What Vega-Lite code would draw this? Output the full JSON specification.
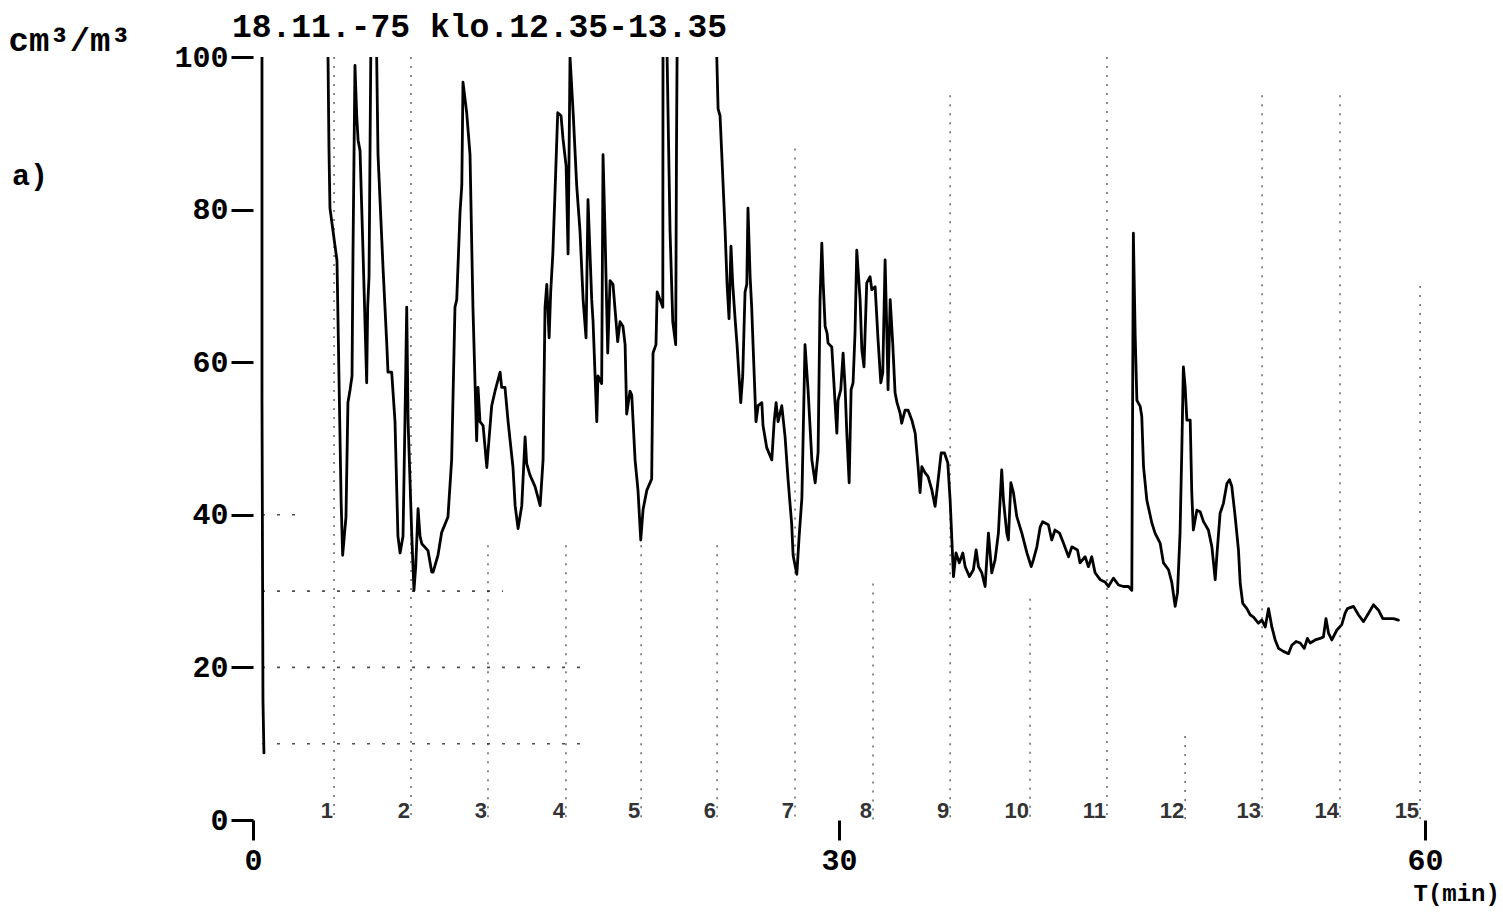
{
  "$schema": "https://vega.github.io/schema/vega-lite/v6.json",
  "width": 1172,
  "height": 763,
  "autosize": {"type": "none"},
  "padding": {"left": 253, "top": 57, "right": 78, "bottom": 93},
  "background": "white",
  "config": {"view": {"stroke": null}},
  "encoding": {
    "x": {
      "field": "t", "type": "quantitative",
      "scale": {"domain": [0, 60], "nice": false, "zero": false},
      "axis": {
        "values": [0, 30, 60], "domain": false, "grid": false,
        "tickSize": 20, "tickWidth": 3, "tickColor": "black",
        "labelFont": "Liberation Mono", "labelFontSize": 30, "labelFontWeight": "bold", "labelColor": "black",
        "labelPadding": 5, "labelFlush": false, "labelOverlap": false,
        "title": "T(min)", "titleX": 1160, "titleY": 80, "titleAlign": "left", "titleBaseline": "alphabetic",
        "titleFont": "Liberation Mono", "titleFontSize": 24, "titleFontWeight": "bold", "titleColor": "black"
      }
    },
    "y": {
      "field": "v", "type": "quantitative",
      "scale": {"domain": [0, 100], "nice": false, "zero": false},
      "axis": {
        "values": [0, 20, 40, 60, 80, 100], "domain": false, "grid": false,
        "tickSize": 22, "tickWidth": 3, "tickColor": "black",
        "labelFont": "Liberation Mono", "labelFontSize": 30, "labelFontWeight": "bold", "labelColor": "black",
        "labelPadding": 3, "labelFlush": false, "labelOverlap": false,
        "title": "cm³/m³", "titleAngle": 0, "titleX": -245, "titleY": -7, "titleAlign": "left", "titleBaseline": "alphabetic",
        "titleFont": "Liberation Mono", "titleFontSize": 34, "titleFontWeight": "bold", "titleColor": "black"
      }
    }
  },
  "layer": [
    {
      "data": {"values": [
        {"t": 4.15, "v": 100, "v0": 0}, {"t": 8.09, "v": 100, "v0": 0}, {"t": 12.03, "v": 36, "v0": 0}, {"t": 16.02, "v": 36, "v0": 0},
        {"t": 19.87, "v": 36, "v0": 0}, {"t": 23.76, "v": 36, "v0": 0}, {"t": 27.75, "v": 88, "v0": 0}, {"t": 31.74, "v": 31, "v0": 0},
        {"t": 35.69, "v": 95, "v0": 0}, {"t": 39.78, "v": 29, "v0": 0}, {"t": 43.72, "v": 100, "v0": 0}, {"t": 47.72, "v": 11, "v0": 0},
        {"t": 51.66, "v": 95, "v0": 0}, {"t": 55.65, "v": 95, "v0": 0}, {"t": 59.75, "v": 70, "v0": 0}
      ]},
      "mark": {"type": "rule", "color": "#222", "strokeWidth": 1.6, "strokeDash": [2, 7], "opacity": 0.65},
      "encoding": {"y2": {"field": "v0"}}
    },
    {
      "data": {"values": [
        {"v": 40, "t": 0.46, "t2": 2.6},
        {"v": 30, "t": 0.46, "t2": 12.8},
        {"v": 20, "t": 0.46, "t2": 16.9},
        {"v": 10, "t": 0.46, "t2": 16.9}
      ]},
      "mark": {"type": "rule", "color": "#222", "strokeWidth": 1.6, "strokeDash": [3, 12], "opacity": 0.8},
      "encoding": {"x2": {"field": "t2"}}
    },
    {
      "data": {"values": [
        {"t": 4.15, "v": 0.3, "n": "1"}, {"t": 8.09, "v": 0.3, "n": "2"}, {"t": 12.03, "v": 0.3, "n": "3"}, {"t": 16.02, "v": 0.3, "n": "4"},
        {"t": 19.87, "v": 0.3, "n": "5"}, {"t": 23.76, "v": 0.3, "n": "6"}, {"t": 27.75, "v": 0.3, "n": "7"}, {"t": 31.74, "v": 0.3, "n": "8"},
        {"t": 35.69, "v": 0.3, "n": "9"}, {"t": 39.78, "v": 0.3, "n": "10"}, {"t": 43.72, "v": 0.3, "n": "11"}, {"t": 47.72, "v": 0.3, "n": "12"},
        {"t": 51.66, "v": 0.3, "n": "13"}, {"t": 55.65, "v": 0.3, "n": "14"}, {"t": 59.75, "v": 0.3, "n": "15"}
      ]},
      "mark": {"type": "text", "align": "right", "baseline": "alphabetic", "dx": -1, "font": "Liberation Sans Narrow, Liberation Sans", "fontSize": 22, "fontWeight": "bold", "color": "#333"},
      "encoding": {"text": {"field": "n"}}
    },
    {
      "data": {"values": [{"lab": "a)", "t": -12.34, "v": 83.2}]},
      "mark": {"type": "text", "align": "left", "baseline": "alphabetic", "font": "Liberation Mono", "fontSize": 30, "fontWeight": "bold", "color": "black"},
      "encoding": {"text": {"field": "lab"}}
    },
    {
      "data": {"values": [{"lab": "18.11.-75 klo.12.35-13.35", "t": -1.08, "v": 102.6}]},
      "mark": {"type": "text", "align": "left", "baseline": "alphabetic", "font": "Liberation Mono", "fontSize": 33, "fontWeight": "bold", "color": "black"},
      "encoding": {"text": {"field": "lab"}}
    },
    {
      "data": {"values": [
{"t":0.56,"v":8.8},{"t":0.51,"v":15.7},{"t":0.46,"v":55.0},{"t":0.46,"v":100},{"t":0.51,"v":110},{"t":3.84,"v":110},{"t":3.84,"v":100},{"t":3.89,"v":87.8},{"t":3.94,"v":80.2},{"t":4.30,"v":73.3},{"t":4.51,"v":41.9},{"t":4.59,"v":34.7},{"t":4.76,"v":39.7},{"t":4.86,"v":54.7},{"t":4.97,"v":56.4},{"t":5.07,"v":58.2},{"t":5.12,"v":74.7},{"t":5.22,"v":98.9},{"t":5.31,"v":92.3},{"t":5.38,"v":89.1},{"t":5.48,"v":87.7},{"t":5.63,"v":74.7},{"t":5.82,"v":57.3},{"t":5.87,"v":67.2},{"t":5.94,"v":71.2},{"t":6.03,"v":100.3},{"t":6.04,"v":110},{"t":6.33,"v":110},{"t":6.33,"v":100.3},{"t":6.40,"v":87.2},{"t":6.66,"v":72.2},{"t":6.85,"v":62.3},{"t":6.91,"v":58.7},{"t":7.10,"v":58.7},{"t":7.27,"v":52.2},{"t":7.42,"v":37.2},{"t":7.53,"v":35.0},{"t":7.68,"v":37.2},{"t":7.78,"v":52.4},{"t":7.87,"v":67.2},{"t":7.94,"v":52.2},{"t":8.13,"v":37.2},{"t":8.24,"v":30.1},{"t":8.33,"v":33.2},{"t":8.45,"v":40.8},{"t":8.55,"v":37.2},{"t":8.64,"v":36.2},{"t":8.96,"v":35.3},{"t":9.15,"v":32.5},{"t":9.22,"v":32.5},{"t":9.47,"v":34.7},{"t":9.66,"v":37.7},{"t":9.98,"v":39.7},{"t":10.17,"v":47.2},{"t":10.34,"v":67.2},{"t":10.43,"v":68.2},{"t":10.60,"v":79.7},{"t":10.69,"v":83.2},{"t":10.75,"v":96.7},{"t":10.94,"v":92.7},{"t":11.11,"v":87.2},{"t":11.26,"v":67.2},{"t":11.45,"v":49.7},{"t":11.52,"v":56.7},{"t":11.62,"v":52.2},{"t":11.78,"v":51.7},{"t":11.97,"v":46.2},{"t":12.03,"v":48.2},{"t":12.22,"v":54.3},{"t":12.39,"v":56.2},{"t":12.65,"v":58.7},{"t":12.73,"v":56.7},{"t":12.90,"v":56.7},{"t":13.06,"v":52.2},{"t":13.31,"v":46.2},{"t":13.42,"v":41.2},{"t":13.57,"v":38.2},{"t":13.76,"v":41.2},{"t":13.93,"v":50.2},{"t":14.01,"v":46.7},{"t":14.18,"v":45.2},{"t":14.44,"v":43.7},{"t":14.70,"v":41.2},{"t":14.85,"v":47.2},{"t":14.95,"v":67.2},{"t":15.04,"v":70.2},{"t":15.16,"v":63.2},{"t":15.24,"v":69.2},{"t":15.35,"v":74.2},{"t":15.46,"v":82.2},{"t":15.60,"v":92.7},{"t":15.77,"v":92.3},{"t":15.87,"v":89.3},{"t":16.03,"v":85.7},{"t":16.13,"v":74.2},{"t":16.23,"v":100},{"t":16.39,"v":92.7},{"t":16.57,"v":83.2},{"t":16.74,"v":77.2},{"t":16.90,"v":68.2},{"t":17.05,"v":63.2},{"t":17.15,"v":81.3},{"t":17.34,"v":68.2},{"t":17.41,"v":65.3},{"t":17.60,"v":52.2},{"t":17.66,"v":58.2},{"t":17.85,"v":57.2},{"t":17.92,"v":87.2},{"t":18.02,"v":77.2},{"t":18.16,"v":61.2},{"t":18.28,"v":70.7},{"t":18.43,"v":70.2},{"t":18.67,"v":62.7},{"t":18.79,"v":65.3},{"t":18.94,"v":64.7},{"t":19.05,"v":62.3},{"t":19.13,"v":53.2},{"t":19.30,"v":56.2},{"t":19.39,"v":55.7},{"t":19.46,"v":52.2},{"t":19.56,"v":47.2},{"t":19.71,"v":43.2},{"t":19.85,"v":36.7},{"t":19.97,"v":40.7},{"t":20.16,"v":43.2},{"t":20.41,"v":44.7},{"t":20.48,"v":61.2},{"t":20.63,"v":62.3},{"t":20.69,"v":69.2},{"t":20.84,"v":68.2},{"t":20.98,"v":67.2},{"t":20.99,"v":100},{"t":21.02,"v":110},{"t":21.20,"v":110},{"t":21.20,"v":100},{"t":21.35,"v":77.2},{"t":21.49,"v":65.3},{"t":21.64,"v":62.3},{"t":21.68,"v":87.8},{"t":21.71,"v":100},{"t":21.71,"v":110},{"t":23.74,"v":110},{"t":23.74,"v":100.3},{"t":23.81,"v":93.2},{"t":23.91,"v":92.3},{"t":24.00,"v":87.2},{"t":24.17,"v":77.2},{"t":24.27,"v":70.2},{"t":24.37,"v":65.7},{"t":24.47,"v":75.2},{"t":24.56,"v":70.2},{"t":24.68,"v":65.7},{"t":24.78,"v":62.3},{"t":24.88,"v":58.2},{"t":24.97,"v":54.7},{"t":25.07,"v":58.2},{"t":25.19,"v":69.2},{"t":25.28,"v":70.2},{"t":25.34,"v":80.2},{"t":25.45,"v":71.2},{"t":25.53,"v":67.2},{"t":25.60,"v":62.3},{"t":25.75,"v":52.2},{"t":25.86,"v":54.3},{"t":26.05,"v":54.7},{"t":26.11,"v":51.7},{"t":26.30,"v":48.8},{"t":26.56,"v":47.2},{"t":26.68,"v":52.2},{"t":26.78,"v":54.7},{"t":26.88,"v":52.2},{"t":27.07,"v":54.3},{"t":27.24,"v":50.2},{"t":27.39,"v":44.7},{"t":27.58,"v":38.7},{"t":27.65,"v":34.7},{"t":27.84,"v":32.2},{"t":27.96,"v":37.2},{"t":28.10,"v":42.2},{"t":28.26,"v":62.3},{"t":28.42,"v":56.2},{"t":28.61,"v":47.2},{"t":28.78,"v":44.2},{"t":28.93,"v":48.2},{"t":29.03,"v":68.2},{"t":29.12,"v":75.6},{"t":29.19,"v":70.4},{"t":29.29,"v":64.7},{"t":29.39,"v":63.8},{"t":29.44,"v":62.5},{"t":29.63,"v":62.0},{"t":29.75,"v":56.8},{"t":29.89,"v":50.7},{"t":29.95,"v":55.0},{"t":30.09,"v":56.4},{"t":30.21,"v":61.2},{"t":30.31,"v":56.8},{"t":30.40,"v":50.7},{"t":30.52,"v":44.2},{"t":30.62,"v":56.4},{"t":30.72,"v":57.3},{"t":30.82,"v":63.8},{"t":30.91,"v":74.7},{"t":31.08,"v":68.2},{"t":31.17,"v":61.6},{"t":31.28,"v":59.4},{"t":31.42,"v":70.4},{"t":31.59,"v":71.2},{"t":31.68,"v":69.5},{"t":31.85,"v":69.9},{"t":32.00,"v":62.9},{"t":32.14,"v":57.3},{"t":32.24,"v":58.6},{"t":32.36,"v":73.4},{"t":32.45,"v":63.8},{"t":32.51,"v":56.4},{"t":32.62,"v":68.2},{"t":32.75,"v":62.5},{"t":32.87,"v":56.0},{"t":32.97,"v":54.7},{"t":33.13,"v":53.3},{"t":33.21,"v":52.0},{"t":33.38,"v":53.7},{"t":33.54,"v":53.7},{"t":33.73,"v":52.4},{"t":33.90,"v":50.7},{"t":34.05,"v":46.3},{"t":34.15,"v":42.9},{"t":34.24,"v":46.3},{"t":34.41,"v":45.5},{"t":34.56,"v":45.0},{"t":34.75,"v":43.3},{"t":34.92,"v":41.1},{"t":35.06,"v":44.2},{"t":35.23,"v":48.1},{"t":35.40,"v":48.1},{"t":35.57,"v":46.8},{"t":35.69,"v":41.9},{"t":35.86,"v":31.9},{"t":35.99,"v":35.0},{"t":36.16,"v":33.7},{"t":36.34,"v":35.0},{"t":36.46,"v":33.2},{"t":36.68,"v":31.9},{"t":36.88,"v":32.8},{"t":37.02,"v":35.4},{"t":37.14,"v":33.2},{"t":37.31,"v":32.4},{"t":37.48,"v":30.6},{"t":37.65,"v":37.6},{"t":37.82,"v":32.4},{"t":37.99,"v":34.1},{"t":38.16,"v":37.6},{"t":38.33,"v":45.9},{"t":38.42,"v":41.9},{"t":38.59,"v":37.6},{"t":38.67,"v":36.7},{"t":38.80,"v":44.2},{"t":38.93,"v":42.9},{"t":39.10,"v":39.8},{"t":39.36,"v":37.6},{"t":39.62,"v":35.0},{"t":39.84,"v":33.2},{"t":39.95,"v":34.1},{"t":40.13,"v":35.8},{"t":40.30,"v":38.4},{"t":40.43,"v":39.1},{"t":40.72,"v":38.7},{"t":40.89,"v":36.7},{"t":41.06,"v":38.0},{"t":41.29,"v":37.6},{"t":41.49,"v":36.3},{"t":41.75,"v":34.5},{"t":41.92,"v":35.8},{"t":42.21,"v":35.4},{"t":42.34,"v":33.7},{"t":42.60,"v":34.5},{"t":42.77,"v":33.2},{"t":42.94,"v":34.5},{"t":43.11,"v":32.4},{"t":43.37,"v":31.5},{"t":43.62,"v":31.2},{"t":43.79,"v":30.6},{"t":44.05,"v":31.7},{"t":44.31,"v":30.8},{"t":44.56,"v":30.6},{"t":44.82,"v":30.6},{"t":44.99,"v":30.1},{"t":45.07,"v":76.9},{"t":45.16,"v":63.8},{"t":45.25,"v":55.0},{"t":45.42,"v":54.2},{"t":45.50,"v":52.9},{"t":45.59,"v":46.3},{"t":45.76,"v":41.9},{"t":46.02,"v":38.9},{"t":46.18,"v":37.6},{"t":46.44,"v":36.3},{"t":46.61,"v":33.7},{"t":46.87,"v":32.8},{"t":47.04,"v":31.1},{"t":47.21,"v":28.0},{"t":47.33,"v":29.8},{"t":47.46,"v":37.6},{"t":47.55,"v":48.5},{"t":47.63,"v":59.4},{"t":47.72,"v":56.8},{"t":47.81,"v":52.4},{"t":47.98,"v":52.4},{"t":48.06,"v":42.9},{"t":48.14,"v":38.0},{"t":48.32,"v":40.6},{"t":48.49,"v":40.4},{"t":48.66,"v":39.1},{"t":48.91,"v":38.0},{"t":49.09,"v":35.8},{"t":49.26,"v":31.5},{"t":49.34,"v":34.5},{"t":49.51,"v":40.2},{"t":49.68,"v":41.5},{"t":49.86,"v":44.1},{"t":49.99,"v":44.6},{"t":50.11,"v":43.7},{"t":50.28,"v":39.8},{"t":50.45,"v":35.4},{"t":50.54,"v":31.0},{"t":50.67,"v":28.4},{"t":50.88,"v":27.7},{"t":51.05,"v":26.9},{"t":51.22,"v":26.6},{"t":51.47,"v":25.8},{"t":51.65,"v":26.2},{"t":51.82,"v":25.3},{"t":51.99,"v":27.7},{"t":52.16,"v":25.3},{"t":52.33,"v":23.6},{"t":52.50,"v":22.5},{"t":52.75,"v":22.1},{"t":53.01,"v":21.8},{"t":53.18,"v":22.9},{"t":53.40,"v":23.4},{"t":53.61,"v":23.2},{"t":53.82,"v":22.5},{"t":53.98,"v":23.8},{"t":54.12,"v":23.2},{"t":54.38,"v":23.6},{"t":54.63,"v":23.8},{"t":54.80,"v":24.0},{"t":54.93,"v":26.4},{"t":55.06,"v":24.5},{"t":55.23,"v":23.6},{"t":55.49,"v":24.9},{"t":55.74,"v":25.6},{"t":55.91,"v":27.1},{"t":56.03,"v":27.7},{"t":56.34,"v":28.0},{"t":56.59,"v":26.9},{"t":56.85,"v":26.0},{"t":57.11,"v":27.1},{"t":57.36,"v":28.2},{"t":57.62,"v":27.5},{"t":57.84,"v":26.4},{"t":58.13,"v":26.4},{"t":58.39,"v":26.4},{"t":58.64,"v":26.2}
      ]},
      "mark": {"type": "line", "clip": true, "color": "black", "strokeWidth": 2.8, "strokeJoin": "round", "strokeCap": "round"},
      "encoding": {"order": {"value": null}}
    }
  ]
}
